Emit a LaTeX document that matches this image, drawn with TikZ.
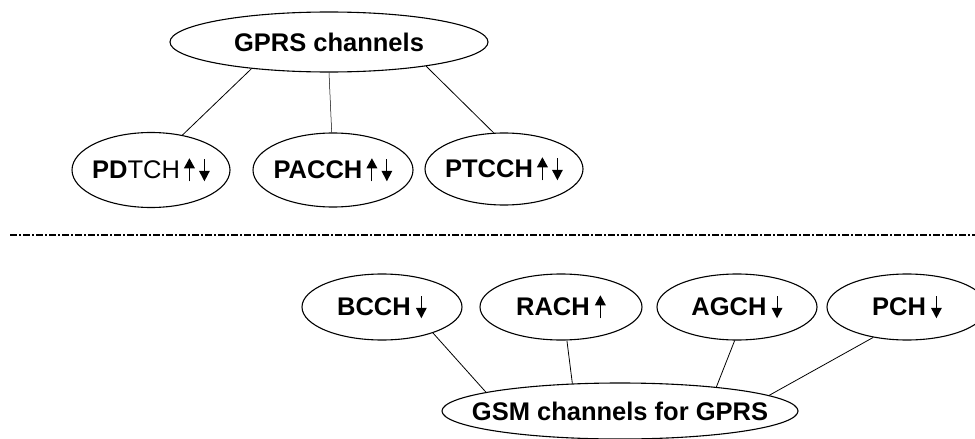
\documentclass[tikz,border=0pt]{standalone}
\usepackage{fontspec}
\setmainfont{Liberation Sans}
\usetikzlibrary{shapes.geometric}
\newcommand\myup{\tikz[x=1pt,y=1pt,baseline=0pt]{\draw[line width=1pt] (0,-3)--(0,12); \fill (0,20)--(-5.5,10)--(5.5,10)--cycle;}}
\newcommand\mydown{\tikz[x=1pt,y=1pt,baseline=0pt]{\draw[line width=1pt] (0,19)--(0,7); \fill (0,-3)--(-5.5,7.5)--(5.5,7.5)--cycle;}}
\newcommand\ctext[1]{\makebox[0pt]{#1}}
\begin{document}
\begin{tikzpicture}[x=1pt,y=-1pt,
  chan/.style={ellipse,draw,line width=1.1pt,inner sep=0pt,
    font=\fontsize{25.5}{28}\selectfont\bfseries},
  link/.style={line width=0.8pt}]
\clip (0,0) rectangle (975,439);
\fill[white] (0,0) rectangle (975,439);
% top half
\node[chan,minimum width=318pt,minimum height=60pt] (gprs) at (329,42) {\ctext{GPRS channels}};
\node[chan,minimum width=158pt,minimum height=75pt] (pdtch) at (151,170) {\ctext{PD\mdseries TCH\hspace{4pt}\myup\hspace{4pt}\mydown}};
\node[chan,minimum width=160pt,minimum height=74pt] (pacch) at (333,170) {\ctext{PACCH\hspace{4pt}\myup\hspace{4pt}\mydown}};
\node[chan,minimum width=158pt,minimum height=72pt] (ptcch) at (504,169) {\ctext{PTCCH\hspace{4pt}\myup\hspace{4pt}\mydown}};
\draw[link] (gprs.199) -- (pdtch.48);
\draw[link,line width=0.5pt] (gprs.270) -- (pacch.92);
\draw[link] (gprs.346) -- (ptcch.106);
% separator
\coordinate (sepL) at (10,235);
\coordinate (sepR) at (975,235);
\draw[line width=1.4pt,dash pattern=on 7pt off 2pt on 2pt off 2pt] (sepL) -- (sepR);
% bottom half
\node[chan,minimum width=160pt,minimum height=66pt] (bcch) at (382,307) {\ctext{BCCH\hspace{5pt}\mydown}};
\node[chan,minimum width=162pt,minimum height=66pt] (rach) at (561,307) {\ctext{RACH\hspace{5pt}\myup}};
\node[chan,minimum width=160pt,minimum height=66pt] (agch) at (737,307) {\ctext{AGCH\hspace{5pt}\mydown}};
\node[chan,minimum width=160pt,minimum height=66pt] (pch) at (907,307) {\ctext{PCH\hspace{5pt}\mydown}};
\node[chan,minimum width=356pt,minimum height=56pt] (gsm) at (620,411) {\ctext{GSM channels for GPRS}};
\draw[link] (bcch.333) -- (gsm.172);
\draw[link] (rach.280) -- (gsm.150);
\draw[link] (agch.266) -- (gsm.14.5);
\draw[link] (pch.222) -- (gsm.6);
\end{tikzpicture}
\end{document}
